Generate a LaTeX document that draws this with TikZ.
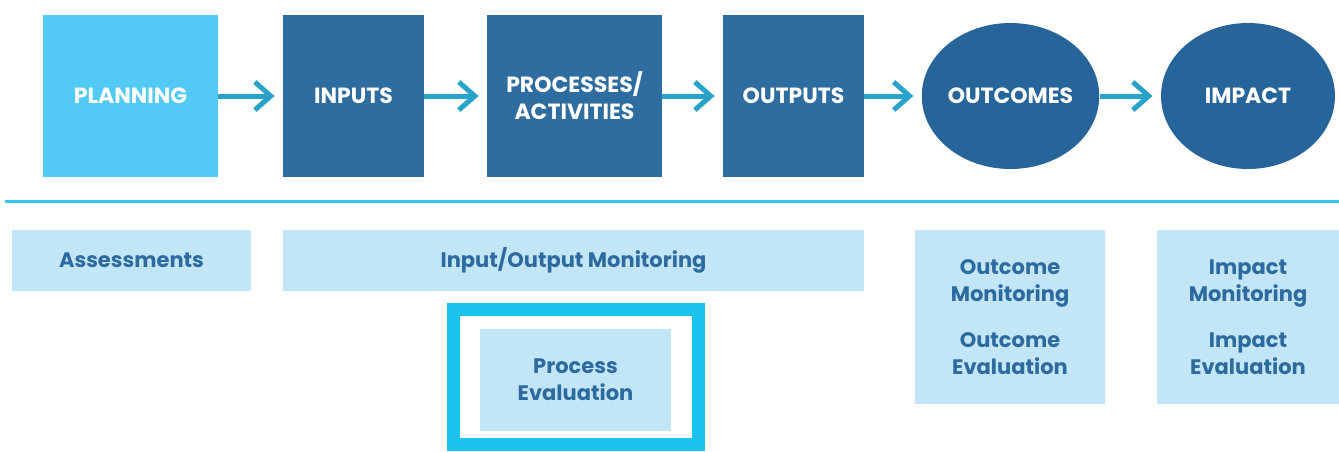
\documentclass[tikz,border=0pt]{standalone}
\usepackage{fontspec}
\setmainfont{Poppins}
\usetikzlibrary{arrows.meta,positioning,shapes.geometric}
\definecolor{sky}{RGB}{82,202,245}
\definecolor{navy}{RGB}{47,108,159}
\definecolor{deep}{RGB}{38,100,154}
\definecolor{flow}{RGB}{42,163,203}
\definecolor{rulec}{RGB}{54,197,240}
\definecolor{pale}{RGB}{194,230,248}
\definecolor{ptext}{RGB}{45,106,159}
\definecolor{framec}{RGB}{29,195,240}
\tikzset{
  stage/.style={rectangle,fill=navy,text=white,inner sep=0pt,align=center,
    font=\bfseries\fontsize{11}{13.5}\selectfont,minimum height=81pt},
  goal/.style={ellipse,fill=deep,text=white,inner sep=0pt,align=center,
    font=\bfseries\fontsize{11}{13.5}\selectfont,minimum width=87pt,minimum height=73pt},
  tool/.style={rectangle,fill=pale,text=ptext,inner sep=0pt,align=center,
    font=\bfseries\fontsize{10.5}{13.5}\selectfont},
  arr/.style={-{Straight Barb[length=8pt,width=14pt]},line width=2.5pt,flow,shorten >=4pt},
}

\begin{document}
\begin{tikzpicture}[x=0.5pt,y=-0.5pt]
\useasboundingbox (0,0) rectangle (1339,451);
% top row
\node[stage,fill=sky,minimum width=87.5pt] (plan) at (130.5,96) {PLANNING};
\node[stage,minimum width=70.5pt] (inp) at (353.5,96) {INPUTS};
\node[stage,minimum width=87.5pt] (proc) at (574.5,96) {PROCESSES/\\ACTIVITIES};
\node[stage,minimum width=70.5pt] (outp) at (793.5,96) {OUTPUTS};
\node[goal] (outc) at (1010.5,96) {OUTCOMES};
\node[goal] (imp) at (1248,96) {IMPACT};
\draw[arr] (plan) -- (inp);
\draw[arr] (inp) -- (proc);
\draw[arr] (proc) -- (outp);
\draw[arr] (outp) -- (outc);
\draw[arr] (outc) -- (imp);
% divider
\coordinate (ruleL) at (5,201);
\coordinate (ruleR) at (1339,201);
\draw[rulec,line width=1.5pt] (ruleL) -- (ruleR);
% bottom row
\node[tool,minimum width=119.5pt,minimum height=30.5pt] (asm) at (131.5,260.5) {Assessments};
\node[tool,minimum width=290.5pt,minimum height=30.5pt] (iom) at (573.5,260.5) {Input/Output Monitoring};
\node[tool,minimum width=95pt,minimum height=87pt] (ocm) at (1010,317)
  {Outcome\\Monitoring\\[9.5pt]Outcome\\Evaluation};
\node[tool,minimum width=91pt,minimum height=87pt] (imm) at (1248,317)
  {Impact\\Monitoring\\[9.5pt]Impact\\Evaluation};
\node[draw=framec,line width=6.5pt,minimum width=122.5pt,minimum height=67.5pt,inner sep=0pt] (focus) at (576,377) {};
\node[tool,minimum width=95.5pt,minimum height=51pt] (pev) at (575.5,380) {Process\\Evaluation};
\end{tikzpicture}
\end{document}
